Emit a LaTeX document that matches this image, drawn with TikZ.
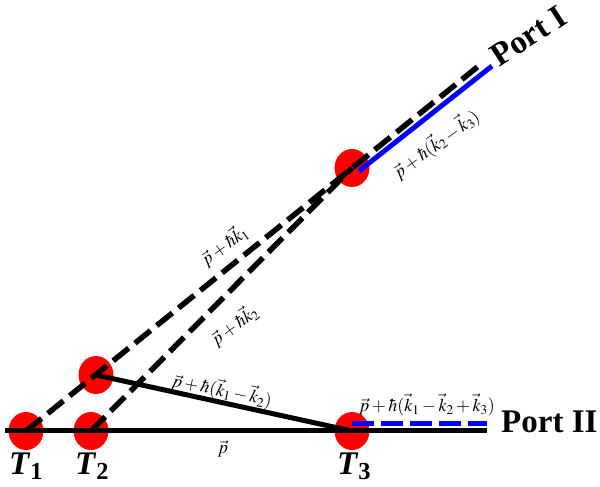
\documentclass[tikz,border=0pt]{standalone}
\usepackage{mathptmx}
\usepackage{fontspec}
\setmainfont{Liberation Serif}
\usetikzlibrary{shapes.geometric}
\begin{document}
\begin{tikzpicture}[x=1pt,y=1pt,
 dot/.style={ellipse, fill=red, minimum width=35pt, minimum height=38pt, inner sep=0},
 dashline/.style={line width=5.5pt, dash pattern=on 20pt off 8pt},
 solidline/.style={line width=5pt},
 bluedash/.style={blue, line width=5pt, dash pattern=on 22pt off 7pt},
 lbl/.style={font=\fontsize{18}{20}\selectfont, inner sep=0},
 port/.style={font=\fontsize{33}{35}\selectfont\bfseries, inner sep=0},
 tlbl/.style={font=\fontsize{33}{35}\selectfont\bfseries, inner sep=0}]
\useasboundingbox (0,0) rectangle (600,487);
% dots
\node[dot] (T1) at (26,56) {};
\node[dot] (T2) at (91,56) {};
\node[dot] (T3) at (352,56) {};
\node[dot] (U) at (96,112) {};
\node[dot] (Top) at (352,319) {};
% coordinates
\coordinate (PI) at (483,424.5);
\coordinate (L) at (5,56);
\coordinate (R) at (487,56);
\coordinate (B1) at (359,316);
\coordinate (B2) at (492,421);
\coordinate (D1) at (352,63);
\coordinate (D2) at (487,63);
% lines
\draw[solidline] (L) -- (R);
\draw[solidline] (U.center) -- (T3.center);
\draw[dashline] (T1.center) -- (PI);
\draw[dashline] (T2.center) -- (Top.center);
\draw[blue, solidline] (B1) -- (B2);
\draw[bluedash] (D1) -- (D2);
% labels
\node[port, anchor=base west, rotate=33] (portI) at (499,419) {Port I};
\node[port, anchor=base west] (portII) at (501,54) {Port II};
\node[tlbl, anchor=base] (t1) at (26,12) {\textit{T}\textsubscript{\upshape 1}};
\node[tlbl, anchor=base] (t2) at (92,12) {\textit{T}\textsubscript{\upshape 2}};
\node[tlbl, anchor=base] (t3) at (354,12) {\textit{T}\textsubscript{\upshape 3}};
\node[lbl, rotate=36] (lk1) at (224,242) {$\vec{p}+\hbar\vec{k}_1$};
\node[lbl, rotate=36] (lk2) at (234,162) {$\vec{p}+\hbar\vec{k}_2$};
\node[lbl, rotate=36] (lk23) at (436,343) {$\vec{p}+\hbar(\vec{k}_2-\vec{k}_3)$};
\node[lbl, rotate=-11.5] (lk12) at (222,97) {$\vec{p}+\hbar(\vec{k}_1-\vec{k}_2)$};
\node[lbl] (lp) at (223,38) {$\vec{p}$};
\node[lbl] (lk123) at (427,82) {$\vec{p}+\hbar(\vec{k}_1-\vec{k}_2+\vec{k}_3)$};
\end{tikzpicture}
\end{document}
